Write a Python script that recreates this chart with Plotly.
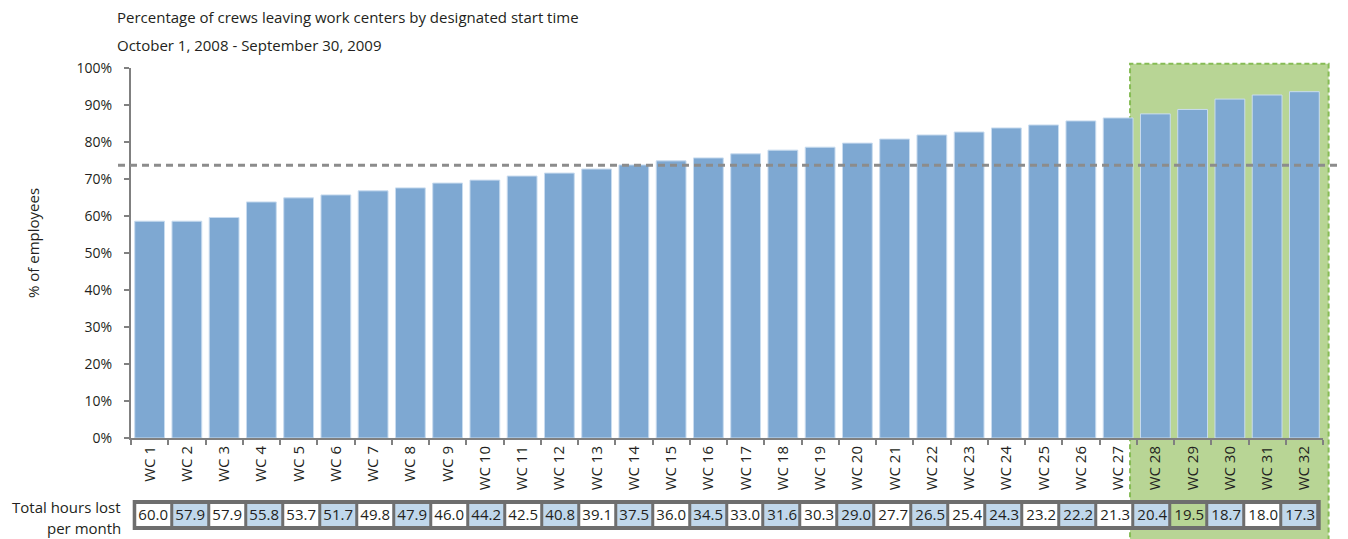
import plotly.graph_objects as go

# ---------------- data ----------------
categories = [f"WC {i}" for i in range(1, 33)]
pct_leaving = [58.6, 58.6, 59.6, 63.8, 64.9, 65.7, 66.8, 67.6, 68.9, 69.7,
               70.8, 71.6, 72.7, 73.8, 74.9, 75.7, 76.8, 77.8, 78.6, 79.7,
               80.8, 81.9, 82.7, 83.8, 84.6, 85.7, 86.5, 87.6, 88.8, 91.6,
               92.7, 93.6]
hours_lost = [60.0, 57.9, 57.9, 55.8, 53.7, 51.7, 49.8, 47.9, 46.0, 44.2,
              42.5, 40.8, 39.1, 37.5, 36.0, 34.5, 33.0, 31.6, 30.3, 29.0,
              27.7, 26.5, 25.4, 24.3, 23.2, 22.2, 21.3, 20.4, 19.5, 18.7,
              18.0, 17.3]
reference_pct = 73.7
highlight_first, highlight_last = "WC 28", "WC 32"
y_ticks = list(range(0, 101, 10))
title_line1 = "Percentage of crews leaving work centers by designated start time"
title_line2 = "October 1, 2008 - September 30, 2009"
y_title = "% of employees"
table_label = ["Total hours lost", "per month"]

# ---------------- style ----------------
W, H = 1348, 539
OFFX, OFFY = 8, 8          # page body margin
FONT = "Open Sans"
TXT = "#231f20"
BAR = "#7EA8D2"
BAR_EDGE = "#C9DCEF"
CELL_BLUE = "#C0D7EB"
CELL_GREEN = "#B8D595"
BOX_FILL = "#B8D595"
BOX_EDGE = "#86BC55"
AXIS = "#808080"
TABLE_GRAY = "#6E6E6E"

# cell shading pattern: alternate white / blue, one green cell
cell_code = [i % 2 for i in range(len(hours_lost))]
cell_code[28] = 2

def px_x(p):  # screen pixel -> paper (x)
    return (p - OFFX) / W

def px_y(p):  # screen pixel -> paper (y)
    return 1 - (p - OFFY) / H

fig = go.Figure()

fig.add_trace(go.Bar(
    x=categories, y=pct_leaving,
    marker=dict(color=BAR, line=dict(color=BAR_EDGE, width=1)),
    hoverinfo="skip", xaxis="x", yaxis="y",
))

fig.add_trace(go.Heatmap(
    x=categories, y=["hours"], z=[cell_code],
    text=[[f"{v:.1f}" for v in hours_lost]],
    texttemplate="%{text}",
    textfont=dict(family=FONT, size=15, color=TXT),
    colorscale=[[0, "white"], [1/3, "white"], [1/3, CELL_BLUE], [2/3, CELL_BLUE],
                [2/3, CELL_GREEN], [1, CELL_GREEN]],
    zmin=-0.5, zmax=2.5, showscale=False, xgap=3, ygap=0,
    hoverinfo="skip", xaxis="x2", yaxis="y2",
))

x_dom = [px_x(131), px_x(1323)]
x2_dom = [px_x(135.2), px_x(1318.2)]
n = len(categories)
i0 = categories.index(highlight_first)
i1 = categories.index(highlight_last)

def cat_dom(v):  # category coordinate -> x-domain fraction
    return (v + 0.5) / n

fig.update_layout(
    width=W, height=H,
    margin=dict(l=0, r=0, t=0, b=0, pad=0, autoexpand=False),
    paper_bgcolor="white", plot_bgcolor="rgba(0,0,0,0)",
    showlegend=False, bargap=0.2,
    font=dict(family=FONT, size=15, color=TXT),
    xaxis=dict(domain=x_dom, type="category", range=[-0.5, n - 0.5],
               automargin=False,
               showline=True, linecolor=AXIS, linewidth=2,
               ticks="outside", ticklen=5, tickcolor=AXIS, tickwidth=2,
               tickson="boundaries", tickangle=-90,
               tickfont=dict(family=FONT, size=15, color=TXT),
               showgrid=False, zeroline=False, fixedrange=True),
    yaxis=dict(domain=[px_y(438), px_y(68)], range=[0, 100],
               automargin=False,
               tickvals=y_ticks, ticktext=[f"{v}%" for v in y_ticks],
               showline=True, linecolor=AXIS, linewidth=2,
               ticks="outside", ticklen=5, tickcolor=AXIS, tickwidth=2,
               ticklabelstandoff=9,
               tickfont=dict(family=FONT, size=14, color=TXT),
               showgrid=False, zeroline=False, fixedrange=True),
    xaxis2=dict(domain=x2_dom, type="category", range=[-0.5, n - 0.5],
                visible=False, anchor="y2", fixedrange=True, automargin=False),
    yaxis2=dict(domain=[px_y(526), px_y(504)], range=[-0.5, 0.5],
                visible=False, anchor="x2", fixedrange=True, automargin=False),
)

# highlight box (below traces)
fig.add_shape(type="rect", layer="below",
              xref="x domain", yref="paper",
              x0=cat_dom(i0 - 0.5 - 0.18), x1=cat_dom(i1 + 0.5 + 0.15),
              y0=-0.05, y1=px_y(63.7),
              fillcolor=BOX_FILL, line=dict(color=BOX_EDGE, width=2, dash="5px,3px"))

# table backing (gray border / gaps)
fig.add_shape(type="rect", layer="below",
              xref="x2 domain", yref="y2 domain",
              x0=-2.5 / 1183, x1=1 + 2.5 / 1183, y0=-4 / 22, y1=1 + 4 / 22,
              fillcolor=TABLE_GRAY, line=dict(width=0))

# reference dashed line
fig.add_shape(type="line", layer="above",
              xref="paper", yref="y",
              x0=px_x(118), x1=1.02, y0=reference_pct, y1=reference_pct,
              line=dict(color="#8C8C8C", width=3, dash="7px,5px"))

# titles
fig.add_annotation(text=title_line1, xref="paper", yref="paper",
                   x=px_x(115), y=px_y(17), xanchor="left", yanchor="middle",
                   showarrow=False, font=dict(family=FONT, size=15, color=TXT))
fig.add_annotation(text=title_line2, xref="paper", yref="paper",
                   x=px_x(115), y=px_y(45), xanchor="left", yanchor="middle",
                   showarrow=False, font=dict(family=FONT, size=15, color=TXT))
fig.add_annotation(text=y_title, xref="paper", yref="paper",
                   x=px_x(33), y=px_y(243), textangle=-90,
                   xanchor="center", yanchor="middle",
                   showarrow=False, font=dict(family=FONT, size=15, color=TXT))
fig.add_annotation(text=table_label[0], xref="paper", yref="paper",
                   x=px_x(123), y=px_y(506.5), xanchor="right", yanchor="middle",
                   showarrow=False, font=dict(family=FONT, size=15, color=TXT))
fig.add_annotation(text=table_label[1], xref="paper", yref="paper",
                   x=px_x(123), y=px_y(527.5), xanchor="right", yanchor="middle",
                   showarrow=False, font=dict(family=FONT, size=15, color=TXT))

fig.write_html("out.html")
